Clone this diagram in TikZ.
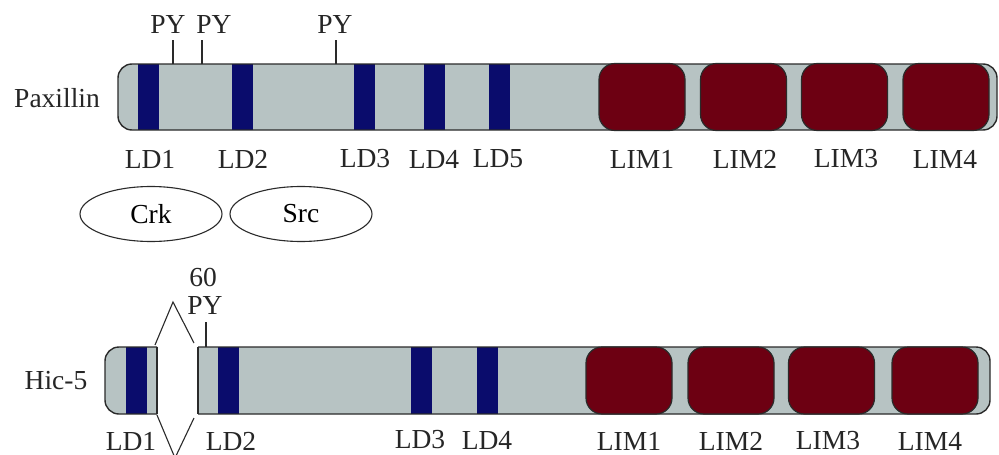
\documentclass[tikz,border=0pt]{standalone}
\usepackage{fontspec}
\setmainfont{Liberation Serif}
\usetikzlibrary{shapes.geometric}
\definecolor{barfill}{HTML}{B7C3C3}
\definecolor{ldblue}{HTML}{0A0C6C}
\definecolor{limred}{HTML}{6D0012}
\definecolor{edgecol}{HTML}{2A2A2A}
\begin{document}
\begin{tikzpicture}[x=1pt,y=-1pt,
  lbl/.style={font=\fontsize{27.5}{27.5}\selectfont, inner sep=0pt, text=black!85},
  ldbar/.style={rectangle, fill=ldblue, draw=none, inner sep=0pt, minimum width=21pt},
  limbox/.style={rectangle, fill=limred, draw=edgecol, line width=1.2pt, rounded corners=16pt, inner sep=0pt, minimum width=86pt},
  barline/.style={draw=edgecol, line width=1.4pt},
  tick/.style={draw=edgecol, line width=1.1pt},
  partner/.style={ellipse, draw=edgecol, line width=1.1pt, minimum width=142pt, minimum height=55pt, inner sep=0pt, font=\fontsize{27.5}{27.5}\selectfont}
]
\useasboundingbox (0,0) rectangle (999,455);
\fill[white] (0,0) rectangle (999,455);

% ---------------- Paxillin ----------------
\node[lbl] (paxlbl) at (57,98) {Paxillin};
\fill[barfill, rounded corners=14pt] (118,64) rectangle (997,130);
\node[ldbar, minimum height=66pt] (pld1) at (148.5,97) {};
\node[ldbar, minimum height=66pt] (pld2) at (242,97) {};
\node[ldbar, minimum height=66pt] (pld3) at (364.5,97) {};
\node[ldbar, minimum height=66pt] (pld4) at (434,97) {};
\node[ldbar, minimum height=66pt] (pld5) at (499,97) {};
\draw[barline, rounded corners=14pt] (118,64) rectangle (997,130);
\node[limbox, minimum height=67pt] (plim1) at (642,97) {};
\node[limbox, minimum height=67pt] (plim2) at (743.5,97) {};
\node[limbox, minimum height=67pt] (plim3) at (844.5,97) {};
\node[limbox, minimum height=67pt] (plim4) at (946,97) {};

\node[lbl] (py1) at (168,24) {PY};
\node[lbl] (py2) at (214,24) {PY};
\node[lbl] (py3) at (335,24) {PY};
\coordinate (t1) at (173,64);
\coordinate (t2) at (202,64);
\coordinate (t3) at (336,64);
\draw[tick] (t1) -- ++(0,-24);
\draw[tick] (t2) -- ++(0,-24);
\draw[tick] (t3) -- ++(0,-24);

\node[lbl] at (150,159) {LD1};
\node[lbl] at (243,159) {LD2};
\node[lbl] at (365,159) {LD3};
\node[lbl] at (434,159) {LD4};
\node[lbl] at (498,159) {LD5};
\node[lbl] at (642,159) {LIM1};
\node[lbl] at (745,159) {LIM2};
\node[lbl] at (846,159) {LIM3};
\node[lbl] at (945,159) {LIM4};

\node[partner] (crk) at (151,214) {Crk};
\node[partner] (src) at (301,214) {Src};

% ---------------- Hic-5 ----------------
\node[lbl] (hiclbl) at (56,381) {Hic-5};
% left segment
\begin{scope}
  \clip (0,300) rectangle (157,455);
  \fill[barfill, rounded corners=14pt] (105,347) rectangle (190,414);
\end{scope}
\node[ldbar, minimum height=67pt] (hld1) at (136.5,380.5) {};
\begin{scope}
  \clip (0,300) rectangle (157,455);
  \draw[barline, rounded corners=14pt] (105,347) rectangle (190,414);
\end{scope}
\draw[barline] (157,347) -- (157,414);
% right segment
\begin{scope}
  \clip (198,300) rectangle (999,455);
  \fill[barfill, rounded corners=14pt] (160,347) rectangle (990,414);
\end{scope}
\node[ldbar, minimum height=67pt] (hld2) at (228.5,380.5) {};
\node[ldbar, minimum height=67pt] (hld3) at (421,380.5) {};
\node[ldbar, minimum height=67pt] (hld4) at (487,380.5) {};
\begin{scope}
  \clip (198,300) rectangle (999,455);
  \draw[barline, rounded corners=14pt] (160,347) rectangle (990,414);
\end{scope}
\draw[barline] (198,347) -- (198,414);
\node[limbox, minimum height=67pt] (hlim1) at (629,380.5) {};
\node[limbox, minimum height=67pt] (hlim2) at (731,380.5) {};
\node[limbox, minimum height=67pt] (hlim3) at (831.5,380.5) {};
\node[limbox, minimum height=67pt] (hlim4) at (935,380.5) {};

% deletion wedges
\coordinate (ua) at (155,345);
\coordinate (ub) at (173,302);
\coordinate (uc) at (194,343);
\coordinate (la) at (157,415);
\coordinate (lb) at (175,458);
\coordinate (lc) at (194,418);
\draw[tick] (ua) -- (ub) -- (uc);
\draw[tick] (la) -- (lb) -- (lc);

\node[lbl] (n60) at (203,277) {60};
\node[lbl] (hpy) at (205,305) {PY};
\coordinate (t4) at (206,347);
\draw[tick] (t4) -- ++(0,-25);

\node[lbl] at (131,441) {LD1};
\node[lbl] at (231,441) {LD2};
\node[lbl] at (420,440) {LD3};
\node[lbl] at (487,440) {LD4};
\node[lbl] at (629,441) {LIM1};
\node[lbl] at (731,441) {LIM2};
\node[lbl] at (828,441) {LIM3};
\node[lbl] at (930,441) {LIM4};
\end{tikzpicture}
\end{document}
